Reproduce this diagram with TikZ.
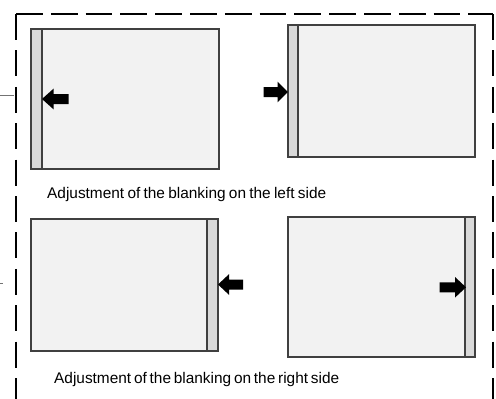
\documentclass[tikz,border=0pt]{standalone}
\usepackage{fontspec}
\setmainfont{Liberation Sans}
\newcommand{\captext}[2]{\makebox[#1][s]{\spaceskip=1pt plus 1fil\relax #2}}
\begin{document}
\begin{tikzpicture}[x=1pt,y=-1pt,
  frameline/.style={line width=2.6pt,line cap=butt},
  hdash/.style={frameline,dash pattern=on 26.8pt off 8pt},
  vdash/.style={frameline,dash pattern=on 26pt off 10.4pt},
  screen/.style={draw=black!75,line width=1.2pt,fill=black!5},
  strip/.style={draw=black!75,line width=1.2pt,fill=black!15},
  tick/.style={draw=black!55,line width=0.8pt},
  caption/.style={anchor=base west,inner sep=0pt,font=\fontsize{15.4}{18}\selectfont},
  blk/.style={fill=black}]
\useasboundingbox (0,0) rectangle (496,399);
% dashed frame
\coordinate (ftl) at (16,14);
\coordinate (ftr) at (493,14);
\coordinate (fbl) at (16,420);
\coordinate (fbr) at (493,420);
\draw[vdash] (ftl) -- (fbl);
\draw[hdash] (ftl) -- (ftr);
\draw[vdash] (ftr) -- (fbr);
% ticks at left edge
\coordinate (t1a) at (0,95); \coordinate (t1b) at (14,95);
\coordinate (t2a) at (0,283); \coordinate (t2b) at (3,283);
\draw[tick] (t1a) -- (t1b);
\draw[tick] (t2a) -- (t2b);
% top-left screen
\draw[screen] (31,29) rectangle (219,169);
\draw[strip] (31,29) rectangle (42,169);
\fill[blk] (42,99) -- (53.5,88.7) -- (53.5,94) -- (68.5,94) -- (68.5,104) -- (53.5,104) -- (53.5,109.3) -- cycle;
% top-right screen
\draw[screen] (288,25) rectangle (475,157);
\draw[strip] (288,25) rectangle (298,157);
\fill[blk] (288,92) -- (277.5,81.7) -- (277.5,87) -- (263.5,87) -- (263.5,97) -- (277.5,97) -- (277.5,102.3) -- cycle;
\node[caption] (cap1) at (47,198) {\captext{279pt}{Adjustment of the blanking on the left side}};
% bottom-left screen
\draw[screen] (31,219) rectangle (218,351);
\draw[strip] (207,219) rectangle (218,351);
\fill[blk] (218,284.5) -- (229,274.2) -- (229,279.5) -- (243,279.5) -- (243,289.5) -- (229,289.5) -- (229,294.8) -- cycle;
% bottom-right screen
\draw[screen] (288,217) rectangle (475,357);
\draw[strip] (465,217) rectangle (475,357);
\fill[blk] (466,287.3) -- (455,277) -- (455,282.3) -- (439.5,282.3) -- (439.5,292.3) -- (455,292.3) -- (455,297.6) -- cycle;
\node[caption] (cap2) at (54,383) {\captext{285pt}{Adjustment of the blanking on the right side}};
\end{tikzpicture}
\end{document}
